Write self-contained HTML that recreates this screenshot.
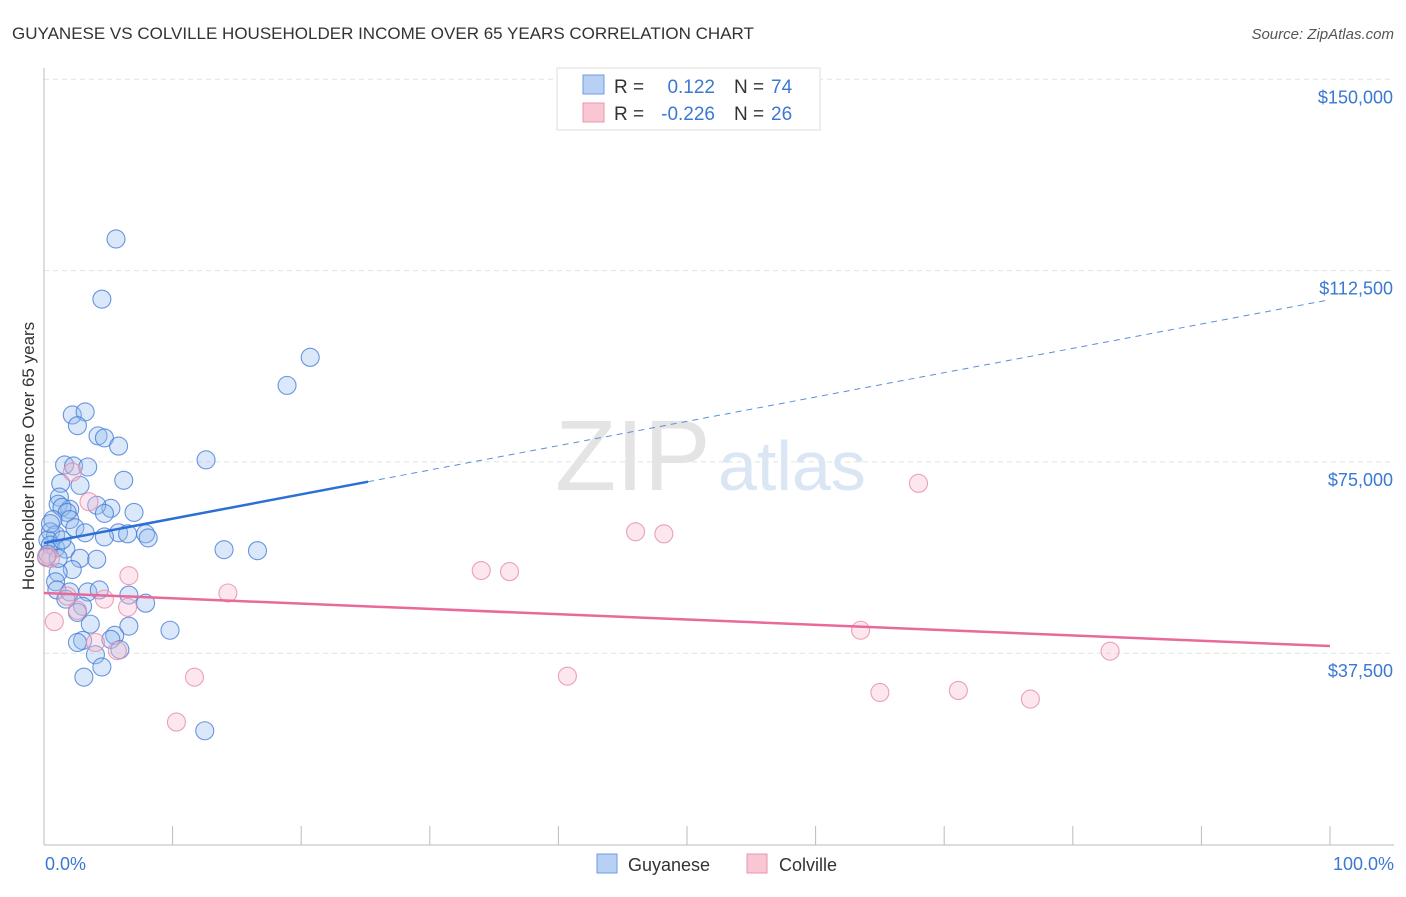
<!DOCTYPE html>
<html><head><meta charset="utf-8"><style>
body{margin:0;background:#fff;font-family:"Liberation Sans",sans-serif;}
svg text{font-family:"Liberation Sans",sans-serif;}
</style></head><body>
<svg id="chart" width="1406" height="892" xmlns="http://www.w3.org/2000/svg">
<text x="12" y="39" font-size="17" fill="#333">GUYANESE VS COLVILLE HOUSEHOLDER INCOME OVER 65 YEARS CORRELATION CHART</text>
<text x="1394" y="39" font-size="15" fill="#555" text-anchor="end" font-style="italic">Source: ZipAtlas.com</text>
<g id="grid"></g>
<text x="555" y="490" font-size="100" fill="#e4e4e4" font-family="Liberation Serif">ZIP</text>
<text x="718" y="490" font-size="70" fill="#dbe6f5">atlas</text>
<line x1="44" y1="68" x2="44" y2="845" stroke="#bbb"/>
<line x1="44" y1="845" x2="1394" y2="845" stroke="#bbb"/>
<text transform="translate(34,456) rotate(-90)" font-size="17" fill="#333" text-anchor="middle">Householder Income Over 65 years</text>
<text x="45" y="870" font-size="18" fill="#3a78d4">0.0%</text>
<text x="1394" y="870" font-size="18" fill="#3a78d4" text-anchor="end">100.0%</text>
<g id="points"></g>
<g id="lines"></g>
<g>
<rect x="557" y="68" width="263" height="62" fill="#fff" stroke="#ddd"/>
<rect x="583" y="75" width="21" height="19" fill="#b7d0f3" stroke="#6f9de0"/>
<rect x="583" y="103" width="21" height="19" fill="#f9c6d4" stroke="#e895ad"/>
<text x="614" y="93" font-size="19" fill="#333">R =</text><text x="715" y="93" font-size="19" fill="#3a78d4" text-anchor="end">0.122</text>
<text x="734" y="93" font-size="19" fill="#333">N =</text><text x="771" y="93" font-size="19" fill="#3a78d4">74</text>
<text x="614" y="120" font-size="19" fill="#333">R =</text><text x="715" y="120" font-size="19" fill="#3a78d4" text-anchor="end">-0.226</text>
<text x="734" y="120" font-size="19" fill="#333">N =</text><text x="771" y="120" font-size="19" fill="#3a78d4">26</text>
</g>
<g><rect x="597" y="854" width="20" height="19" fill="#b7d0f3" stroke="#6f9de0"/><text x="628" y="871" font-size="18" fill="#333">Guyanese</text></g>
<g><rect x="747" y="854" width="20" height="19" fill="#f9c6d4" stroke="#e895ad"/><text x="779" y="871" font-size="18" fill="#333">Colville</text></g>
</svg>
<script>
const yTicks=[37500,75000,112500,150000];
const yTickLabels=["$37,500","$75,000","$112,500","$150,000"];
const xTicks=[0,10,20,30,40,50,60,70,80,90,100];
const guyaneseX=[5.6,4.5,20.7,18.9,2.2,3.2,2.6,4.2,4.7,5.8,12.6,1.6,2.3,3.4,6.2,2.8,1.3,1.2,1.1,2.0,1.4,1.8,5.2,7.0,4.1,4.7,2.0,2.4,0.7,3.2,5.8,6.5,7.9,8.1,0.5,0.9,0.3,4.7,14.0,16.6,0.5,0.9,1.7,2.8,4.1,0.3,2.2,1.1,0.9,1.0,3.4,4.3,2.0,6.6,7.9,1.7,3.0,2.6,3.6,6.6,9.8,5.5,5.2,3.0,2.6,5.9,4.0,4.5,3.1,12.5,0.2,0.5,1.4,1.1];
const guyaneseY=[118700,106900,95500,90000,84200,84800,82100,80100,79700,78100,75400,74400,74200,74000,71400,70400,70800,68100,66700,65700,66100,65100,65900,65100,66500,64900,63700,62100,63700,61100,61100,60900,60900,60100,61300,60700,59700,60300,57800,57600,58700,58100,57900,56100,55900,56900,53900,53300,51500,49900,49500,49900,49500,48900,47300,48100,46700,45500,43200,42800,42000,41000,40200,40000,39600,38200,37200,34800,32800,22300,56300,62900,59700,56100];
const colvilleX=[3.5,2.2,0.5,6.6,14.3,4.7,6.5,0.8,2.6,1.8,4.0,5.7,11.7,10.3,34.0,36.2,46.0,48.2,68.0,40.7,63.5,82.9,65.0,71.1,76.7,0.2];
const colvilleY=[67200,73000,56100,52700,49300,48100,46500,43700,45900,48700,39600,38000,32800,24000,53700,53500,61300,60900,70800,33000,42000,37900,29800,30200,28500,56500];
const blueLine=[0.122,0,59100,100,106800];
const pinkLine=[-0.226,0,49300,100,38900];
const NS="http://www.w3.org/2000/svg";
const X=p=>44+p*12.86, Y=v=>844.5-v*191.3/37500;
function mk(t,a,parent){const e=document.createElementNS(NS,t);for(const k in a)e.setAttribute(k,a[k]);parent.appendChild(e);return e;}
const grid=document.getElementById('grid');
yTicks.forEach((v,i)=>{
 const l=mk('line',{x1:44,x2:1394,y1:Y(v),y2:Y(v),stroke:'#e2e2e2','stroke-dasharray':'5,4'},grid);
 
 
 const t=mk('text',{x:1393,y:Y(v)+24,'font-size':18,fill:'#3a78d4','text-anchor':'end'},grid);
 t.textContent=yTickLabels[i];
 
 
});
xTicks.forEach(p=>{
 const l=mk('line',{x1:X(p),x2:X(p),y1:826,y2:845,stroke:'#bbb'},grid);
 
 
});
const pts=document.getElementById('points');
guyaneseX.forEach((x,i)=>{
 const c=mk('circle',{cx:X(x),cy:Y(guyaneseY[i]),r:9,fill:'rgba(150,188,238,0.35)',stroke:'rgba(70,125,215,0.8)','stroke-width':1.1},pts);
 
 
});
colvilleX.forEach((x,i)=>{
 const c=mk('circle',{cx:X(x),cy:Y(colvilleY[i]),r:9,fill:'rgba(248,185,205,0.35)',stroke:'rgba(232,138,167,0.8)','stroke-width':1.1},pts);
 
 
});
const ln=document.getElementById('lines');
const bAt=p=>blueLine[2]+(blueLine[4]-blueLine[2])*p/100;
let a=mk('line',{x1:X(0),y1:Y(bAt(0)),x2:X(25.2),y2:Y(bAt(25.2)),stroke:'#2c6fd6','stroke-width':2.5},ln);


a=mk('line',{x1:X(25.2),y1:Y(bAt(25.2)),x2:X(100),y2:Y(bAt(100)),stroke:'#5a8fdc','stroke-width':1,'stroke-dasharray':'6,5'},ln);


a=mk('line',{x1:X(0),y1:Y(pinkLine[2]),x2:X(100),y2:Y(pinkLine[4]),stroke:'#e8699a','stroke-width':2.5},ln);


</script>
</body></html>
